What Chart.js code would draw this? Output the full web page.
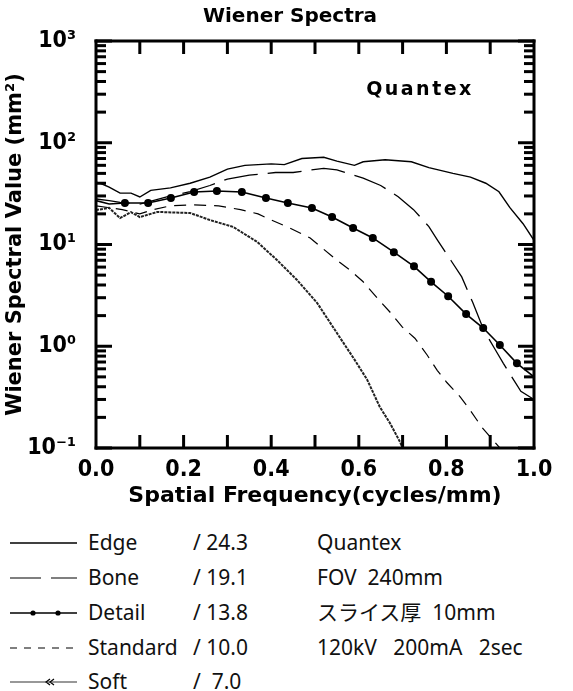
<!DOCTYPE html>
<html>
<head>
<meta charset="utf-8">
<script src="https://cdn.jsdelivr.net/npm/chart.js@4.4.1/dist/chart.umd.min.js"></script>
<style>
  body { margin: 0; background: #fff; }
  #wrap { position: relative; width: 573px; height: 691px; }
  #chart { position: absolute; left: 0; top: 0; }
  .row { position: absolute; left: 0; height: 30px; width: 573px;
         font-family: "Noto Sans", "Noto Sans CJK JP", sans-serif; font-size: 21px; color: #111; }
  .row svg { position: absolute; left: 0; top: 4px; }
  .row span { position: absolute; top: 0; line-height: 30px; white-space: pre; }
  .nm { left: 88px; }
  .vl { left: 193px; }
  .info { left: 317px; }
</style>
</head>
<body>
<div id="wrap">
  <canvas id="chart" width="573" height="520"></canvas>
  <div class="row" style="top:527px">
    <svg width="85" height="24"><line x1="10" y1="12" x2="77" y2="12" stroke="#000" stroke-width="1.3"/></svg>
    <span class="nm">Edge</span><span class="vl">/ 24.3</span><span class="info">Quantex</span>
  </div>
  <div class="row" style="top:562px">
    <svg width="85" height="24"><line x1="10" y1="12" x2="77" y2="12" stroke="#000" stroke-width="1.2" stroke-dasharray="31 10"/></svg>
    <span class="nm">Bone</span><span class="vl">/ 19.1</span><span class="info">FOV  240mm</span>
  </div>
  <div class="row" style="top:597px">
    <svg width="85" height="24"><line x1="10" y1="12" x2="77" y2="12" stroke="#000" stroke-width="1.6"/><circle cx="33" cy="12" r="2.6"/><circle cx="58" cy="12" r="2.6"/></svg>
    <span class="nm">Detail</span><span class="vl">/ 13.8</span><span class="info">スライス厚  10mm</span>
  </div>
  <div class="row" style="top:632px">
    <svg width="85" height="24"><line x1="10" y1="12" x2="77" y2="12" stroke="#000" stroke-width="1.1" stroke-dasharray="7 7"/></svg>
    <span class="nm">Standard</span><span class="vl">/ 10.0</span><span class="info">120kV   200mA   2sec</span>
  </div>
  <div class="row" style="top:666px">
    <svg width="85" height="24"><line x1="10" y1="12" x2="77" y2="12" stroke="#333" stroke-width="1.2"/><path d="M50 9 L46 12 L50 15 M54 9 L50 12 L54 15" fill="none" stroke="#000" stroke-width="1.2"/></svg>
    <span class="nm">Soft</span><span class="vl">/  7.0</span>
  </div>
</div>
<script>
// spatial frequency (cycles/mm) and Wiener spectral value (mm^2)
const edgeFreq = [0, 0.01, 0.03, 0.055, 0.08, 0.1, 0.125, 0.17, 0.215, 0.26, 0.3, 0.34, 0.4, 0.43, 0.47, 0.52, 0.55, 0.59, 0.61, 0.66, 0.72, 0.76, 0.815, 0.855, 0.89, 0.92, 0.945, 0.975, 1.0];
const edgeVal  = [41, 40, 36.7, 32, 32, 29.3, 34, 36, 40, 46, 55, 60, 62, 61, 70, 72, 66, 60, 65, 68, 65, 57, 50, 46, 40, 33, 23, 16, 11];

const boneFreq = [0, 0.03, 0.055, 0.1, 0.13, 0.17, 0.215, 0.26, 0.3, 0.35, 0.41, 0.45, 0.49, 0.52, 0.55, 0.575, 0.61, 0.65, 0.69, 0.725, 0.76, 0.78, 0.81, 0.835, 0.86, 0.885, 0.91, 0.93, 0.97, 1.0];
const boneVal  = [28, 27, 26, 25, 27, 30, 33, 38, 44, 48, 51, 51, 54, 56, 54, 50, 45, 38, 29.5, 22, 15, 11, 7, 4.8, 2.7, 1.45, 0.95, 0.68, 0.36, 0.3];

const detailFreq = [0, 0.03, 0.066, 0.119, 0.171, 0.224, 0.276, 0.333, 0.388, 0.438, 0.493, 0.539, 0.587, 0.632, 0.68, 0.726, 0.765, 0.804, 0.845, 0.884, 0.922, 0.961, 1.0];
const detailVal  = [27, 25, 25.6, 25.6, 28.6, 32.8, 33.6, 32.8, 28.6, 25.6, 22.8, 18.6, 14.5, 11.6, 8.4, 6.1, 4.3, 3.1, 2.07, 1.51, 1.03, 0.68, 0.5];

const standardFreq = [0, 0.03, 0.06, 0.1, 0.13, 0.17, 0.22, 0.28, 0.33, 0.37, 0.4, 0.443, 0.489, 0.55, 0.58, 0.61, 0.642, 0.671, 0.699, 0.728, 0.756, 0.779, 0.801, 0.831, 0.854, 0.881, 0.906, 0.922];
const standardVal  = [24, 23, 22, 20, 22, 24, 24.5, 24, 22, 20, 17.4, 14.5, 11.6, 7.0, 5.6, 4.3, 2.98, 2.17, 1.55, 1.2, 0.82, 0.58, 0.44, 0.32, 0.236, 0.16, 0.12, 0.1];

const softFreq = [0, 0.03, 0.055, 0.08, 0.1, 0.14, 0.215, 0.26, 0.313, 0.368, 0.413, 0.459, 0.505, 0.55, 0.591, 0.619, 0.648, 0.671, 0.694, 0.70];
const softVal  = [21.8, 22.9, 18.2, 20.8, 18.6, 20.9, 20.4, 17.4, 14.9, 10.6, 7.05, 4.48, 2.66, 1.35, 0.73, 0.47, 0.253, 0.176, 0.115, 0.1];

const yDecades = [0.1, 1, 10, 100];
const yMultipliers = [1, 2, 3, 4, 5, 6, 7, 8, 9];
const yMax = 1000;
const xTickStep = 0.1;
const expSup = { '-1': '⁻¹', '0': '⁰', '1': '¹', '2': '²', '3': '³' };

const pts = (fs, vs) => fs.map((f, i) => ({ x: f, y: vs[i] }));
const boldFont = '"DejaVu Sans", sans-serif';
const tickFont = '"Liberation Sans Narrow", "DejaVu Sans Condensed", sans-serif';

function drawFrame(chart) {
    const c = chart.ctx;
    const a = chart.chartArea;
    const x = chart.scales.x;
    const y = chart.scales.y;
    c.save();
    c.setLineDash([]);
    c.globalAlpha = 1;
    c.globalCompositeOperation = 'source-over';
    c.fillStyle = '#000';
    // inward tick marks on all four sides
    y.ticks.forEach(t => {
        const lg = Math.log10(t.value);
        const major = Math.abs(lg - Math.round(lg)) < 1e-9;
        const py = y.getPixelForValue(t.value);
        const len = major ? 16 : 10;
        c.fillRect(a.left, py - 1.5, len, 3);
        c.fillRect(a.right - len, py - 1.5, len, 3);
    });
    x.ticks.forEach(t => {
        if (t.value <= 0.001 || t.value >= 0.999) return;
        const px = x.getPixelForValue(t.value);
        c.fillRect(px - 1.5, a.top, 3, 13);
        c.fillRect(px - 1.5, a.bottom - 13, 3, 13);
    });
    // plot frame
    c.fillRect(a.left - 1.5, a.top - 1.5, a.right - a.left + 3, 3);
    c.fillRect(a.left - 1.5, a.bottom - 1.5, a.right - a.left + 3, 3);
    c.fillRect(a.left - 1.5, a.top - 1.5, 3, a.bottom - a.top + 3);
    c.fillRect(a.right - 1.5, a.top - 1.5, 3, a.bottom - a.top + 3);
    c.restore();
}

const frameTicks = {
    id: 'frameTicks',
    afterLayout(chart) {
        // centre the title a little right of the canvas middle, like the original
        chart.titleBlock.left = 0;
        chart.titleBlock.right = 580;
    },
    afterDraw(chart) {
        drawFrame(chart);
        const c = chart.ctx;
        const a = chart.chartArea;
        c.save();
        c.fillStyle = '#000';
        c.font = 'bold 19px ' + boldFont;
        c.letterSpacing = '2.5px';
        c.textAlign = 'center';
        c.textBaseline = 'middle';
        c.fillText('Quantex', a.right - 114, a.top + 49);
        c.restore();
    }
};

const ctx = document.getElementById('chart').getContext('2d');
const myChart = new Chart(ctx, {
    type: 'line',
    data: {
        datasets: [
            {
                label: 'Edge',
                data: pts(edgeFreq, edgeVal),
                borderColor: '#000',
                borderWidth: 1.4,
                pointRadius: 0
            },
            {
                label: 'Bone',
                data: pts(boneFreq, boneVal),
                borderColor: '#000',
                borderWidth: 1.3,
                borderDash: [34, 10],
                pointRadius: 0
            },
            {
                label: 'Detail',
                data: pts(detailFreq, detailVal),
                borderColor: '#000',
                backgroundColor: '#000',
                borderWidth: 1.6,
                pointRadius: c => (c.dataIndex >= 2 && c.dataIndex < detailFreq.length - 1) ? 3.2 : 0
            },
            {
                label: 'Standard',
                data: pts(standardFreq, standardVal),
                borderColor: '#000',
                borderWidth: 1.2,
                borderDash: [12, 8],
                pointRadius: 0
            },
            {
                label: 'Soft',
                data: pts(softFreq, softVal),
                borderColor: '#222',
                borderWidth: 2,
                borderDash: [3, 1],
                pointRadius: 0
            }
        ]
    },
    options: {
        responsive: false,
        animation: false,
        layout: { padding: { left: 0, right: 39, top: 0, bottom: 0 } },
        plugins: {
            legend: { display: false },
            tooltip: { enabled: false },
            title: {
                display: true,
                text: 'Wiener Spectra',
                color: '#000',
                font: { family: boldFont, size: 20, weight: 'bold' },
                padding: { top: 5, bottom: 12 }
            }
        },
        scales: {
            x: {
                type: 'linear',
                min: 0,
                max: 1,
                grid: { display: false, drawTicks: false },
                border: { display: false },
                afterFit: s => { s.height = 72; },
                ticks: {
                    stepSize: xTickStep,
                    autoSkip: false,
                    maxRotation: 0,
                    padding: 8,
                    color: '#000',
                    font: { family: tickFont, size: 23, weight: 'bold' },
                    callback: v => (Math.round(v * 10) % 2 === 0) ? v.toFixed(1) : ''
                },
                title: {
                    display: true,
                    text: 'Spatial Frequency(cycles/mm)',
                    color: '#000',
                    font: { family: boldFont, size: 22, weight: 'bold' },
                    padding: { top: 0, bottom: 11 }
                }
            },
            y: {
                type: 'logarithmic',
                min: 0.1,
                max: yMax,
                grid: { display: false, drawTicks: false },
                border: { display: false },
                afterFit: s => { s.width = 96; },
                afterBuildTicks: s => {
                    const ticks = [];
                    yDecades.forEach(d => yMultipliers.forEach(m => ticks.push({ value: +(d * m).toPrecision(3) })));
                    ticks.push({ value: yMax });
                    s.ticks = ticks;
                },
                ticks: {
                    autoSkip: false,
                    padding: 20,
                    color: '#000',
                    font: { family: tickFont, size: 23, weight: 'bold' },
                    callback: v => {
                        const lg = Math.log10(v);
                        const e = Math.round(lg);
                        return Math.abs(lg - e) < 1e-9 ? '10' + expSup[e] : '';
                    }
                },
                title: {
                    display: true,
                    text: 'Wiener Spectral Value (mm²)',
                    color: '#000',
                    font: { family: boldFont, size: 21, weight: 'bold' },
                    padding: { top: 3, bottom: 0 }
                }
            }
        }
    },
    plugins: [frameTicks]
});
</script>
</body>
</html>
